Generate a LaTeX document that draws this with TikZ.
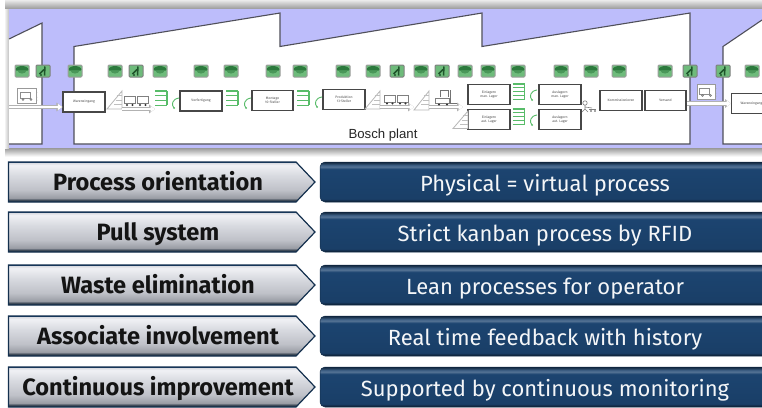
\documentclass[tikz,border=0pt]{standalone}
\usepackage{fontspec}
\setmainfont{Fira Sans}
\newfontfamily\plantfont{Liberation Sans}
\usetikzlibrary{arrows.meta}
\definecolor{lilac}{HTML}{BDBDFB}
\definecolor{wall}{HTML}{4F4F5A}
\definecolor{sgreen}{HTML}{6EBB7B}
\definecolor{dgreen}{HTML}{2C7A3D}
\definecolor{sbar}{HTML}{58BC69}
\definecolor{navy}{HTML}{1C4470}
\definecolor{chA}{HTML}{F0F1F5}
\definecolor{chB}{HTML}{D8DAE0}
\definecolor{chC}{HTML}{BFC1C8}
\definecolor{chD}{HTML}{9A9DA5}
\definecolor{chE}{HTML}{2E3A48}
\pgfdeclareverticalshading{arrowsh}{100bp}{color(0bp)=(chE); color(25bp)=(chE); color(27bp)=(chE); color(30bp)=(chD); color(40bp)=(chC); color(58bp)=(chB); color(71bp)=(chA); color(74bp)=(chB); color(75bp)=(navy); color(100bp)=(navy)}
\pgfdeclareverticalshading{barsh}{100bp}{color(0bp)=(black!70!navy); color(25bp)=(black!60!navy); color(29bp)=(navy!92!black); color(66bp)=(navy); color(69bp)=(navy!75!white); color(71bp)=(navy!85!white); color(75bp)=(black!50!navy); color(100bp)=(black!50!navy)}
\tikzset{
  x=1pt,y=-1pt,
  wallline/.style={draw=wall,line width=1.1pt,fill=white,line join=miter},
  procbox/.style={draw=black!72,line width=1.2pt,fill=white,inner sep=0pt,align=center,font=\fontsize{3.4}{4}\selectfont,text=black!70,minimum width=42pt,minimum height=20pt},
  truckbox/.style={draw=black!40,line width=.9pt,fill=white,inner sep=0pt,minimum width=19pt,minimum height=15pt},
  sensor/.style={draw=black!38,line width=1pt,fill=sgreen,rounded corners=1pt,inner sep=0pt,minimum width=14pt,minimum height=12pt},
  dome/.style={sensor,path picture={
    \fill[dgreen] ([xshift=-6.5pt,yshift=.5pt]path picture bounding box.center) arc[start angle=180,end angle=0,x radius=6.5pt,y radius=4.5pt] -- cycle;
    \fill[dgreen!55!sgreen] ([xshift=-4pt,yshift=.5pt]path picture bounding box.center) arc[start angle=180,end angle=360,x radius=4pt,y radius=3pt] -- cycle;}},
  worker/.style={sensor,draw=black!50,path picture={
    \draw[dgreen!70!black,line width=1.5pt] ([xshift=2pt,yshift=4.5pt]path picture bounding box.center) -- ([xshift=1.5pt,yshift=-4.5pt]path picture bounding box.center);
    \draw[dgreen!70!black,line width=1.5pt] ([xshift=-3.5pt,yshift=-3pt]path picture bounding box.center) -- ([xshift=1pt,yshift=1.5pt]path picture bounding box.center);
    \fill[dgreen!70!black] ([xshift=-2pt,yshift=-4pt]path picture bounding box.center) circle (1.2pt);}},
  fatarrow/.style={preaction={draw=black!30,line width=4.4pt,-{Triangle[length=6pt,width=8.5pt]}},draw=white,line width=2.8pt,-{Triangle[length=4.5pt,width=6pt]}},
  bar/.style={draw=sbar,line width=1.2pt},
  turn/.style={draw=sbar,line width=.9pt},
  stockedge/.style={draw=black!28,line width=.8pt,fill=white},
  chevron/.style={draw=navy!70!black,line width=1.2pt,shading=arrowsh,line join=miter},
  chevtext/.style={font=\fontsize{23.6}{26}\selectfont\bfseries,text=black!92,anchor=base,inner sep=0pt},
  panelbar/.style={draw=black!30!navy,line width=.5pt,shading=barsh,rounded corners=5pt},
  paneltext/.style={font=\fontsize{22}{24}\selectfont,text=white!95!navy,anchor=base,inner sep=0pt},
}
\newcommand{\rack}[3]{% x y nlines
  \foreach \k in {1,...,#3}{\draw[bar] (#1,#2+\k*19/#3-19/#3) -- (#1+12,#2+\k*19/#3-19/#3);}
  \draw[bar] (#1+12,#2) -- (#1+12,#2+19-19/#3);}
\newcommand{\loopback}[2]{% x y
  \draw[turn] (#1+7,#2) .. controls (#1,#2+1) and (#1-1,#2+7) .. (#1+2,#2+10);
  \fill[sbar] (#1+2,#2+10) circle (1pt);}
\newcommand{\stock}[3]{% right x, top y, bottom y
  \draw[stockedge] (#1-15,#3) -- (#1,#2) -- (#1,#3) -- cycle;
  \foreach \f in {.25,.5,.75}{\draw[black!25,line width=.5pt] (#1-4-\f*5,#2+\f*18) -- (#1,#2+\f*18);}}
\newcommand{\wagons}[2]{% x y
  \foreach \d in {0,13}{
    \draw[black!50,line width=.9pt,fill=white] (#1+\d,#2) rectangle ++(11.5,7);
    \fill[black!80] (#1+\d+3,#2+8.5) circle (1.1pt) (#1+\d+8.5,#2+8.5) circle (1.1pt);}}
\newcommand{\tinytruck}[1]{%
  \draw[black!45,line width=.6pt] ([shift={(-7,-3)}]#1) rectangle ([shift={(3,3)}]#1);
  \draw[black!45,line width=.6pt] ([shift={(3,-1)}]#1) -- ([shift={(7,1)}]#1) -- ([shift={(7,3)}]#1) -- ([shift={(3,3)}]#1);
  \draw[black!55,line width=.5pt] ([shift={(-4,4)}]#1) circle (1pt) ([shift={(4,4)}]#1) circle (1pt);}
\newcommand{\rowitem}[4]{% top y, name, left text, right text
  \path[chevron] (8.5,#1) -- (296,#1) -- (315,#1+20) -- (296,#1+40) -- (8.5,#1+40) -- cycle;
  \node[chevtext] (L#2) at (158,#1+28.5) {#3};
  \path[panelbar] (320,#1) -- (770,#1) -- (770,#1+40) -- (320,#1+40) -- cycle;
  \node[paneltext] (R#2) at (545,#1+29) {#4};}
\begin{document}
\begin{tikzpicture}
\useasboundingbox (0,0) rectangle (762,407);
% panel with soft shadow
\fill[top color=black!8,bottom color=black!40] (5,0) rectangle (762,9);
\fill[top color=black!40,bottom color=black!3] (5,148) rectangle (762,156);
\fill[left color=white,right color=black!25] (4,9) rectangle (9,148);
\fill[lilac] (9,9) rectangle (762,148);
% buildings
\path[fill=white] (9,39) -- (42,23) -- (42,144) -- (9,144) -- cycle;
\draw[wallline,fill=none] (9,39) -- (42,23) -- (42,144) -- (9,144);
\draw[wallline] (74,46.5) -- (280,13) -- (280,46.5) -- (482,13) -- (482,46.5) -- (690,13) -- (690,144) -- (74,144) -- cycle;
\path[fill=white] (723,46.5) -- (762,20) -- (762,144) -- (723,144) -- cycle;
\draw[wallline,fill=none] (762,20) -- (723,46.5) -- (723,144) -- (762,144);
\node[font=\plantfont\fontsize{13.2}{15}\selectfont,text=black!85] (plant) at (383,135) {Bosch plant};
% sensors
\foreach \n/\x in {a/22,c/75,d/115,f/160,g/201,h/231,i/273,j/300,k/343,l/373,n/421,p/465,q/488,r/518,s/561,t/591,u/619,v/665,y/752}
  \node[dome] (sens\n) at (\x,71) {};
\foreach \n/\x in {b/43,e/136,m/397,o/442,w/690,x/723}
  \node[worker] (sens\n) at (\x,71) {};
% process boxes
\node[procbox] (we1) at (84,102) {Wareneingang};
\node[procbox] (vor) at (201,101) {Vorfertigung};
\node[procbox,minimum width=41pt] (mon) at (272.5,100.5) {Montage\\10-Steller};
\node[procbox] (pro) at (344,99.5) {Produktion\\13-Steller};
\node[procbox] (ein1) at (489,94.5) {Einlagern\\man. Lager};
\node[procbox] (ein2) at (489,119.5) {Einlagern\\aut. Lager};
\node[procbox] (aus1) at (560,94.5) {Auslagern\\man. Lager};
\node[procbox] (aus2) at (560,119.5) {Auslagern\\aut. Lager};
\node[procbox] (kom) at (621,100.5) {Kommissionieren};
\node[procbox,minimum width=41pt] (ver) at (665.5,100.5) {Versand};
\node[procbox,minimum width=40pt,anchor=west] (we2) at (731,103.5) {Wareneingang};
% trucks
\node[truckbox] (truck1) at (27,95.5) {};
\tinytruck{truck1}
\node[truckbox,minimum width=18pt] (truck2) at (706.5,91.5) {};
\tinytruck{truck2}
% flow connectors
\coordinate (enter) at (9,107);
\draw[fatarrow] (enter) -- (we1.west|-enter);
\coordinate (a1) at (122,109);
\coordinate (a1e) at (155,109);
\coordinate (a2) at (380,107);
\coordinate (a2e) at (414,107);
\coordinate (a3) at (429,107);
\coordinate (a3e) at (463,107);
\stock{122}{91}{109}
\stock{380}{91}{109}
\stock{429}{91}{110}
\stock{468}{111}{128.5}
\draw[fatarrow] (a1) -- (a1e);
\draw[fatarrow] (a2) -- (a2e);
\draw[fatarrow] (a3) -- (a3e);
\wagons{124}{96.5}
\wagons{384}{95}
% forklift
\draw[black!55,line width=.9pt] (440,97) -- (440,90) -- (448,90) -- (448,97);
\draw[black!50,line width=.9pt,fill=white] (435,98) rectangle (449,103);
\draw[black!55,line width=1pt] (450,90) -- (450,103) -- (457,103);
\fill[black!80] (439,104.5) circle (1.2pt) (447,104.5) circle (1.2pt);
% racks and loops
\rack{155}{91}{4}\loopback{172}{98}
\rack{226}{91}{4}\loopback{244}{98}
\rack{297}{91}{4}\loopback{315}{97}
\rack{512.5}{84}{5}\loopback{530}{90}
\rack{512.5}{109}{5}\loopback{530}{115}
% picker
\draw[black!50,line width=.6pt,fill=white] (585,103) circle (2.2pt);
\draw[black!50,line width=.6pt] (585,105) -- (585,109) -- (582,112) (585,109) -- (588,112) (585,107) -- (592,108);
\draw[black!50,line width=.6pt] (589,109) -- (596,109);
\fill[black!70] (591,111) circle (.9pt) (595,111) circle (.9pt);
\draw[fatarrow] (ver.east|-we2.west) -- (we2.west);
% rows
\rowitem{162}{a}{Process orientation}{Physical = virtual process}
\rowitem{212}{b}{Pull system}{Strict kanban process by RFID}
\rowitem{265}{c}{Waste elimination}{Lean processes for operator}
\rowitem{316}{d}{Associate involvement}{Real time feedback with history}
\rowitem{367}{e}{Continuous improvement}{Supported by continuous monitoring}
\end{tikzpicture}
\end{document}
